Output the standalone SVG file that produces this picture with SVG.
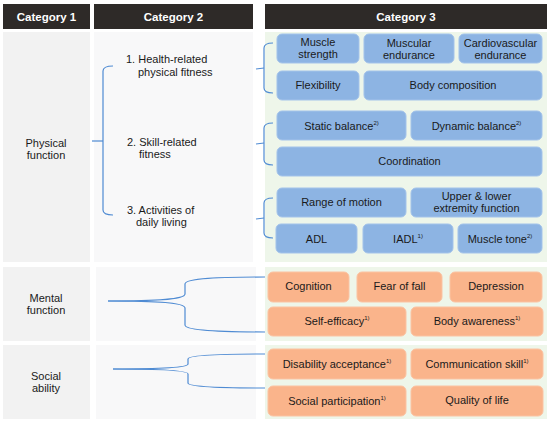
<svg xmlns="http://www.w3.org/2000/svg" width="550" height="424" viewBox="0 0 550 424">
<style>
.hdr{fill:#2e2a28}
.hdt{font-family:"Liberation Sans",Arial,sans-serif;font-size:11.5px;font-weight:bold;fill:#ffffff;text-anchor:middle}
.c1{fill:#f2f2f2}
.c2{fill:#f8f8f9}
.c3{fill:#eef6ea}
.t{font-family:"Liberation Sans",Arial,sans-serif;font-size:11px;fill:#1a1a1a}
.m{text-anchor:middle}
.sup{font-size:6px}
.b{fill:#8db4e3;stroke:#a3c3ea;stroke-width:1}
.o{fill:#fab48b;stroke:#fbc3a2;stroke-width:1}
.ln{fill:none;stroke:#4f8bd3;stroke-width:1.2}
</style>
<rect width="550" height="424" fill="#ffffff"/>
<g id="headers">
<rect class="hdr" x="3" y="4" width="87" height="25"/>
<text class="hdt" x="46.5" y="21">Category 1</text>
<rect class="hdr" x="94" y="4" width="159" height="25"/>
<text class="hdt" x="173.5" y="21">Category 2</text>
<rect class="hdr" x="265" y="4" width="282" height="25"/>
<text class="hdt" x="406" y="21">Category 3</text>
</g>
<g id="backgrounds">
<rect class="c1" x="3" y="32" width="87" height="230"/>
<rect class="c2" x="94" y="32" width="159" height="230"/>
<rect class="c3" x="265" y="32" width="282" height="230"/>
<rect class="c1" x="3" y="267" width="87" height="74"/>
<rect class="c2" x="96" y="267" width="160" height="74"/>
<rect class="c3" x="265" y="267" width="282" height="74"/>
<rect class="c1" x="3" y="345" width="87" height="74"/>
<rect class="c2" x="96" y="345" width="160" height="74"/>
<rect class="c3" x="265" y="345" width="282" height="74"/>
</g>
<g id="cat1">
<g id="physical-function"><text class="t m" x="46" y="147">Physical</text><text class="t m" x="46" y="159">function</text></g>
<g id="mental-function"><text class="t m" x="46" y="302">Mental</text><text class="t m" x="46" y="314">function</text></g>
<g id="social-ability"><text class="t m" x="46" y="380">Social</text><text class="t m" x="46" y="392">ability</text></g>
</g>
<g id="cat2">
<g id="health-related"><text class="t" x="126" y="63">1. Health-related</text><text class="t" x="138" y="76">physical fitness</text></g>
<g id="skill-related"><text class="t" x="127" y="146">2. Skill-related</text><text class="t" x="139" y="158">fitness</text></g>
<g id="adl-activities"><text class="t" x="127" y="214">3. Activities of</text><text class="t" x="136" y="226">daily living</text></g>
</g>
<g id="connectors">
<path class="ln" d="M113,66 Q103,66 103,71 L103,210 Q103,215 113,215"/>
<path class="ln" d="M92,141 L103,141"/>
<path class="ln" d="M273,43 Q264,43 264,48 L264,88 Q264,93 273,93"/>
<path class="ln" d="M256,69 L264,68"/>
<path class="ln" d="M273,123 Q264,123 264,128 L264,160 Q264,165 273,165"/>
<path class="ln" d="M256,144 L264,143"/>
<path class="ln" d="M273,198 Q264,198 264,203 L264,233 Q264,238 273,238"/>
<path class="ln" d="M256,219 L264,218"/>
<path class="ln" d="M108,301 C150,301 185,300 185,294 L185,284 C185,278 220,277 265,277"/>
<path class="ln" d="M108,301 C150,301 185,302 185,308 L185,325 C185,330 220,332 265,332"/>
<path class="ln" d="M113,369 C155,369 188,368 188,364 L188,359 C188,355 220,354 265,354"/>
<path class="ln" d="M113,369 C155,369 188,370 188,374 L188,383 C188,387 220,388 265,388"/>
</g>
<g id="physical-items">
<g id="muscle-strength"><rect class="b" x="277" y="34" width="82" height="29" rx="5"/><text class="t m" x="318" y="46">Muscle</text><text class="t m" x="318" y="58">strength</text></g>
<g id="muscular-endurance"><rect class="b" x="364" y="34" width="90" height="29" rx="5"/><text class="t m" x="409" y="47">Muscular</text><text class="t m" x="409" y="59">endurance</text></g>
<g id="cardio-endurance"><rect class="b" x="459" y="34" width="83" height="29" rx="5"/><text class="t m" x="500.5" y="47">Cardiovascular</text><text class="t m" x="500.5" y="59">endurance</text></g>
<g id="flexibility"><rect class="b" x="277" y="71" width="82" height="29" rx="5"/><text class="t m" x="318" y="89">Flexibility</text></g>
<g id="body-composition"><rect class="b" x="364" y="71" width="178" height="29" rx="5"/><text class="t m" x="453" y="89">Body composition</text></g>
<g id="static-balance"><rect class="b" x="277" y="111" width="129" height="29" rx="5"/><text class="t m" x="341.5" y="130">Static balance<tspan class="sup" dy="-5">2)</tspan></text></g>
<g id="dynamic-balance"><rect class="b" x="411" y="111" width="131" height="29" rx="5"/><text class="t m" x="476.5" y="130">Dynamic balance<tspan class="sup" dy="-5">2)</tspan></text></g>
<g id="coordination"><rect class="b" x="277" y="147" width="265" height="29" rx="5"/><text class="t m" x="409.5" y="165">Coordination</text></g>
<g id="range-of-motion"><rect class="b" x="277" y="188" width="129" height="29" rx="5"/><text class="t m" x="341.5" y="206">Range of motion</text></g>
<g id="extremity-function"><rect class="b" x="411" y="188" width="131" height="29" rx="5"/><text class="t m" x="476.5" y="200">Upper &amp; lower</text><text class="t m" x="476.5" y="212">extremity function</text></g>
<g id="adl"><rect class="b" x="276" y="224" width="81" height="29" rx="5"/><text class="t m" x="316.5" y="243">ADL</text></g>
<g id="iadl"><rect class="b" x="363" y="224" width="90" height="29" rx="5"/><text class="t m" x="408" y="243">IADL<tspan class="sup" dy="-5">1)</tspan></text></g>
<g id="muscle-tone"><rect class="b" x="458" y="224" width="84" height="29" rx="5"/><text class="t m" x="500" y="243">Muscle tone<tspan class="sup" dy="-5">2)</tspan></text></g>
</g>
<g id="mental-items">
<g id="cognition"><rect class="o" x="268" y="272" width="81" height="30" rx="5"/><text class="t m" x="308.5" y="290">Cognition</text></g>
<g id="fear-of-fall"><rect class="o" x="357" y="272" width="85" height="30" rx="5"/><text class="t m" x="399.5" y="290">Fear of fall</text></g>
<g id="depression"><rect class="o" x="450" y="272" width="92" height="30" rx="5"/><text class="t m" x="496" y="290">Depression</text></g>
<g id="self-efficacy"><rect class="o" x="268" y="307" width="138" height="29" rx="5"/><text class="t m" x="337" y="325">Self-efficacy<tspan class="sup" dy="-5">1)</tspan></text></g>
<g id="body-awareness"><rect class="o" x="411" y="307" width="132" height="29" rx="5"/><text class="t m" x="477" y="325">Body awareness<tspan class="sup" dy="-5">1)</tspan></text></g>
</g>
<g id="social-items">
<g id="disability-acceptance"><rect class="o" x="268" y="349" width="138" height="30" rx="5"/><text class="t m" x="337" y="368">Disability acceptance<tspan class="sup" dy="-5">1)</tspan></text></g>
<g id="communication-skill"><rect class="o" x="411" y="349" width="132" height="30" rx="5"/><text class="t m" x="477" y="368">Communication skill<tspan class="sup" dy="-5">1)</tspan></text></g>
<g id="social-participation"><rect class="o" x="268" y="386" width="138" height="30" rx="5"/><text class="t m" x="337" y="405">Social participation<tspan class="sup" dy="-5">1)</tspan></text></g>
<g id="quality-of-life"><rect class="o" x="411" y="386" width="132" height="30" rx="5"/><text class="t m" x="477" y="404">Quality of life</text></g>
</g>
</svg>
